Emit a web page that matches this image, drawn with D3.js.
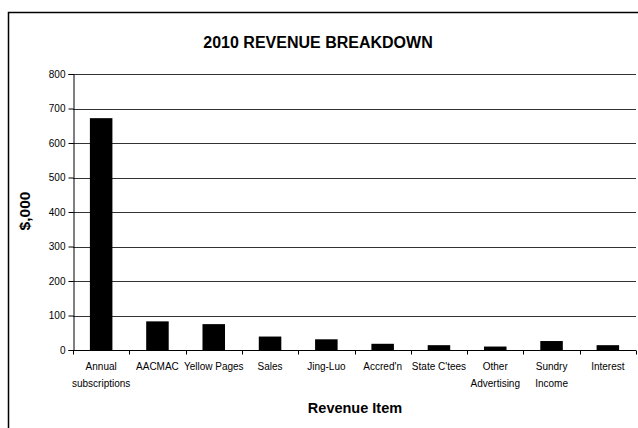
<!DOCTYPE html>
<html>
<head>
<meta charset="utf-8">
<script src="https://cdn.jsdelivr.net/npm/d3@7"></script>
<style>
  body { margin: 0; background: #fff; }
  text { font-family: "Liberation Sans", Arial, sans-serif; fill: #000; }
</style>
</head>
<body>
<div id="vis"></div>
<script>
var categories = ["Annual\nsubscriptions", "AACMAC", "Yellow Pages", "Sales", "Jing-Luo",
                  "Accred'n", "State C'tees", "Other\nAdvertising", "Sundry\nIncome", "Interest"];
var revenue = [672, 83, 75, 39, 31, 18, 14, 10, 26, 14];
var yTicks = [0, 100, 200, 300, 400, 500, 600, 700, 800];

var width = 638, height = 428;
var margin = { top: 74, right: 2, bottom: 78, left: 73 };
var plotRight = width - margin.right,
    plotBottom = height - margin.bottom;

var svg = d3.select("#vis").append("svg")
    .attr("width", width)
    .attr("height", height);

// outer chart border (runs off the right and bottom edges)
svg.append("rect")
    .attr("x", 8.5).attr("y", 12.5)
    .attr("width", 700).attr("height", 500)
    .attr("fill", "none")
    .attr("stroke", "#000")
    .attr("stroke-width", 1.5);

var x = d3.scaleBand()
    .domain(categories)
    .range([margin.left, plotRight])
    .paddingInner(0.6)
    .paddingOuter(0.3);

var y = d3.scaleLinear()
    .domain([0, 800])
    .range([plotBottom, margin.top]);

// gridlines
svg.append("g")
    .selectAll("line")
    .data(yTicks.filter(function(d) { return d > 0; }))
    .enter().append("line")
    .attr("x1", margin.left).attr("x2", plotRight)
    .attr("y1", function(d) { return Math.round(y(d)) + 0.5; })
    .attr("y2", function(d) { return Math.round(y(d)) + 0.5; })
    .attr("stroke", "#333")
    .attr("stroke-width", 1);

// bars
svg.append("g")
    .selectAll("rect")
    .data(revenue)
    .enter().append("rect")
    .attr("x", function(d, i) { return x(categories[i]); })
    .attr("width", x.bandwidth())
    .attr("y", function(d) { return y(d); })
    .attr("height", function(d) { return y(0) - y(d); })
    .attr("fill", "#000");

// y axis
var yAxis = svg.append("g")
    .attr("transform", "translate(" + (margin.left + 0.5) + ",0)")
    .call(d3.axisLeft(y).tickValues(yTicks).tickSize(5).tickPadding(3));
yAxis.selectAll("text").style("font-size", "10px")
    .style("font-family", "Liberation Sans, Arial, sans-serif");

// x axis: ticks between categories
var xb = d3.scaleLinear().domain([0, categories.length]).range([margin.left, plotRight]);
var xAxis = svg.append("g")
    .attr("transform", "translate(0," + (Math.round(plotBottom) + 0.5) + ")");
xAxis.append("line")
    .attr("x1", margin.left).attr("x2", plotRight)
    .attr("stroke", "#000");
xAxis.selectAll(".tk")
    .data(d3.range(categories.length + 1))
    .enter().append("line")
    .attr("class", "tk")
    .attr("x1", function(d) { return Math.round(xb(d)) + 0.5; })
    .attr("x2", function(d) { return Math.round(xb(d)) + 0.5; })
    .attr("y1", 0).attr("y2", 4)
    .attr("stroke", "#000");

var lbl = xAxis.selectAll(".lbl")
    .data(categories)
    .enter().append("text")
    .attr("class", "lbl")
    .attr("text-anchor", "middle")
    .style("font-size", "10px")
    .attr("transform", function(d) { return "translate(" + (x(d) + x.bandwidth() / 2) + ",19)"; });
lbl.selectAll("tspan")
    .data(function(d) { return d.split("\n"); })
    .enter().append("tspan")
    .attr("x", 0)
    .attr("dy", function(d, i) { return i === 0 ? 0 : 17; })
    .text(function(d) { return d; });

// title
svg.append("text")
    .attr("x", 318).attr("y", 48)
    .attr("text-anchor", "middle")
    .style("font-size", "16px").style("font-weight", "bold")
    .text("2010 REVENUE BREAKDOWN");

// axis titles
svg.append("text")
    .attr("transform", "translate(30,211) rotate(-90)")
    .attr("text-anchor", "middle")
    .style("font-size", "15.5px").style("font-weight", "bold")
    .text("$,000");

svg.append("text")
    .attr("x", 355).attr("y", 413)
    .attr("text-anchor", "middle")
    .style("font-size", "14.5px").style("font-weight", "bold")
    .text("Revenue Item");
</script>
</body>
</html>
